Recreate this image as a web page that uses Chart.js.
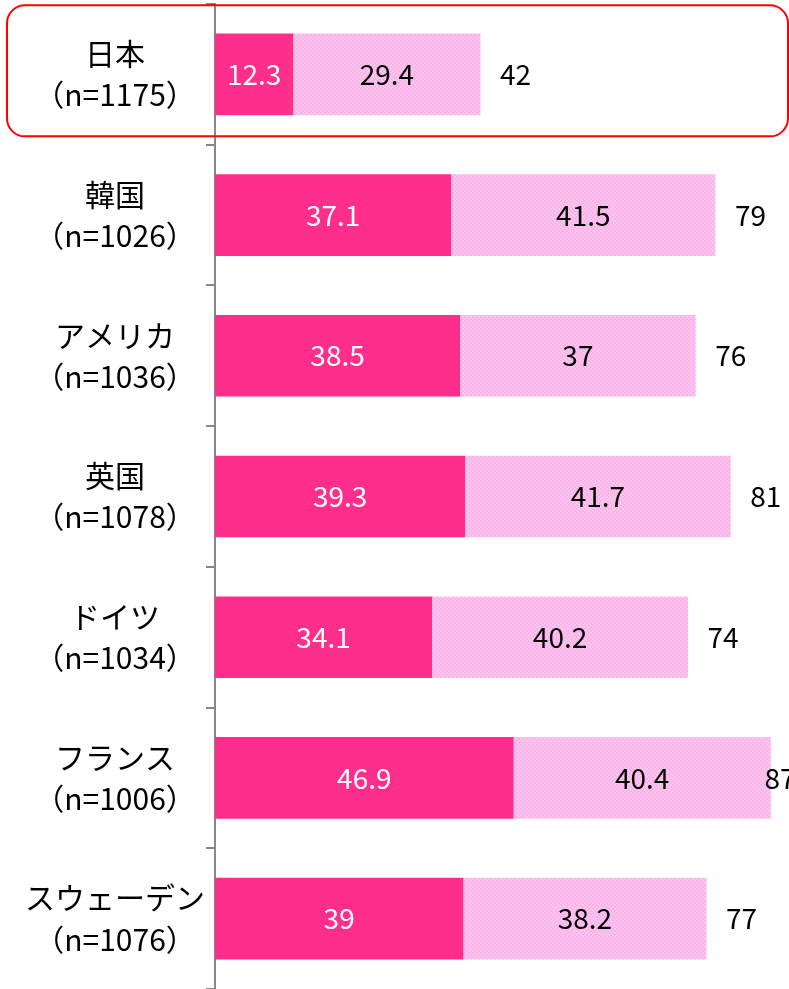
<!DOCTYPE html>
<html>
<head>
<meta charset="utf-8">
<script src="https://cdn.jsdelivr.net/npm/chart.js@4"></script>
<style>
  body { margin: 0; background: #fff; }
  #wrap { width: 789px; height: 989px; }
</style>
</head>
<body>
<div id="wrap"><canvas id="grafico"></canvas></div>
<script>
// datos
const paises = ["日本", "韓国", "アメリカ", "英国", "ドイツ", "フランス", "スウェーデン"];
const muestras = ["（n=1175）", "（n=1026）", "（n=1036）", "（n=1078）", "（n=1034）", "（n=1006）", "（n=1076）"];
const serie1 = [12.3, 37.1, 38.5, 39.3, 34.1, 46.9, 39];
const serie2 = [29.4, 41.5, 37, 41.7, 40.2, 40.4, 38.2];
const totales = [42, 79, 76, 81, 74, 87, 77];

const fuente = "'Noto Sans CJK JP', 'Noto Sans', sans-serif";

// patron rosado claro con una trama suave
function crearPatron() {
  const c = document.createElement("canvas");
  c.width = 4; c.height = 4;
  const g = c.getContext("2d");
  g.fillStyle = "#fcc3f0";
  g.fillRect(0, 0, 4, 4);
  g.fillStyle = "#f8b6e8";
  g.fillRect(0, 0, 2, 2);
  g.fillRect(2, 2, 2, 2);
  return g.createPattern(c, "repeat");
}

// etiquetas dentro de las barras y total a la derecha
const etiquetas = {
  id: "etiquetas",
  afterDatasetsDraw(chart) {
    const ctx = chart.ctx;
    ctx.save();
    ctx.font = "28px " + fuente;
    ctx.textAlign = "center";
    ctx.textBaseline = "middle";
    chart.data.datasets.forEach((ds, d) => {
      const meta = chart.getDatasetMeta(d);
      meta.data.forEach((bar, i) => {
        ctx.fillStyle = d === 0 ? "#ffffff" : "#000000";
        ctx.fillText(String(ds.data[i]), (bar.x + bar.base) / 2, bar.y);
      });
    });
    const ultima = chart.getDatasetMeta(1);
    ctx.fillStyle = "#000000";
    ultima.data.forEach((bar, i) => {
      const x = Math.min(bar.x + 35, 780);
      ctx.fillText(String(totales[i]), x, bar.y);
    });
    ctx.restore();
  }
};

// recuadro rojo alrededor de Japon
const recuadro = {
  id: "recuadro",
  afterDraw(chart) {
    const ctx = chart.ctx;
    const y = chart.scales.y.getPixelForValue(0);
    const x0 = 7, x1 = 788, y0 = y - 69, y1 = y + 62, r = 18;
    ctx.save();
    ctx.strokeStyle = "#ff0000";
    ctx.lineWidth = 2;
    ctx.beginPath();
    ctx.roundRect(x0, y0, x1 - x0, y1 - y0, r);
    ctx.stroke();
    ctx.restore();
  }
};

new Chart(document.getElementById("grafico"), {
  type: "bar",
  data: {
    labels: paises.map((p, i) => [p, muestras[i]]),
    datasets: [
      {
        data: serie1,
        backgroundColor: "#ff2d8c",
        borderWidth: 0,
        categoryPercentage: 1,
        barPercentage: 0.58,
      },
      {
        data: serie2,
        backgroundColor: crearPatron(),
        borderWidth: 0,
        categoryPercentage: 1,
        barPercentage: 0.58,
      },
    ],
  },
  options: {
    indexAxis: "y",
    responsive: true,
    maintainAspectRatio: false,
    animation: false,
    layout: { padding: { top: 4, bottom: 0, left: 0, right: 1 } },
    plugins: {
      legend: { display: false },
      tooltip: { enabled: false },
    },
    scales: {
      x: {
        stacked: true,
        display: false,
        min: 0,
        max: 90,
      },
      y: {
        stacked: true,
        afterFit(scale) {
          scale.width = 215;
          scale.paddingTop = 0;
          scale.paddingBottom = 0;
        },
        border: { color: "#888888", width: 2 },
        grid: {
          drawOnChartArea: false,
          tickLength: 9,
          color: "#888888",
          lineWidth: 2,
        },
        ticks: {
          crossAlign: "center",
          padding: 1,
          color: "#000000",
          font: { family: fuente, size: 30, lineHeight: 1.37 },
        },
      },
    },
  },
  plugins: [etiquetas, recuadro],
});
</script>
</body>
</html>
